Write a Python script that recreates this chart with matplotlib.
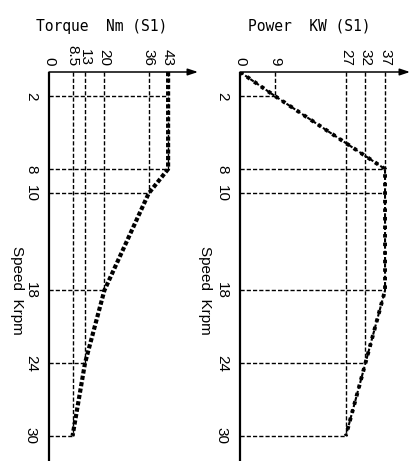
import matplotlib
matplotlib.use("Agg")
import matplotlib.pyplot as plt
import numpy as np

# ---- data ----
speed_ticks = [2, 8, 10, 18, 24, 30]

torque_speed = [0, 8, 10, 14, 18, 24, 30]
torque_vals = [43, 43, 36, 28, 20, 13, 8.5]
torque_ticks = [0, 8.5, 13, 20, 36, 43]
torque_ref_speed = [2, 8, 10, 18, 24, 30]
torque_ref_val = [43, 43, 36, 20, 13, 8.5]

power_speed = [0, 2, 8, 18, 24, 30]
power_vals = [0, 9, 37, 37, 32, 27]
power_ticks = [0, 9, 27, 32, 37]
power_ref_speed = [2, 8, 10, 18, 24, 30]
power_ref_val = [9, 37, 37, 37, 32, 27]
power_vert_speed = [2, 30, 24, 8]
power_vert_val = [9, 27, 32, 37]

torque_title = "Torque  Nm (S1)"
power_title = "Power  KW (S1)"
speed_label = "Speed  Krpm"

W, H = 414, 461
fig = plt.figure(figsize=(W / 100, H / 100), dpi=100)

tick_font = dict(family="Liberation Sans", size=11)
mono = "DejaVu Sans Mono"

def make_axes(left_px, right_px, xmax):
    top_px = 72
    ax = fig.add_axes([left_px / W, 0, (right_px - left_px) / W, (H - top_px) / H])
    ymax = (H - top_px) / 12.13
    ax.set_xlim(0, xmax)
    ax.set_ylim(ymax, 0)
    for s in ax.spines.values():
        s.set_visible(False)
    ax.patch.set_alpha(0)
    # axes lines
    ax.plot([0, 0], [0, ymax], color="black", lw=1.6, solid_capstyle="butt", clip_on=False)
    ax.annotate("", xy=(xmax, 0), xytext=(0, 0), xycoords="data",
                arrowprops=dict(arrowstyle="-|>,head_length=0.6,head_width=0.2",
                                color="black", lw=1.1, shrinkA=0, shrinkB=0),
                annotation_clip=False)
    return ax

grid_kw = dict(color="black", lw=1.0, dashes=(3, 1.5), zorder=2)

# ---- torque panel ----
ax1 = make_axes(49, 198, 149 / 2.77)
for s, v in zip(torque_ref_speed, torque_ref_val):
    ax1.plot([0, v], [s, s], **grid_kw)
for v in sorted(set(torque_ref_val)):
    smax = max(s for s, vv in zip(torque_ref_speed, torque_ref_val) if vv == v)
    ax1.plot([v, v], [0, smax], **grid_kw)
ax1.plot(torque_vals, torque_speed, color="black", lw=3.0, dashes=(1, 0.55),
         zorder=3, solid_capstyle="butt")

# ---- power panel ----
ax2 = make_axes(240, 410, 170 / 3.92)
for s, v in zip(power_ref_speed, power_ref_val):
    ax2.plot([0, v], [s, s], **grid_kw)
for s, v in zip(power_vert_speed, power_vert_val):
    ax2.plot([v, v], [0, s], **grid_kw)
ax2.plot(power_vals, power_speed, color="black", lw=1.5, dashes=(2, 1), zorder=3)
ax2.plot(power_vals, power_speed, color="black", lw=2.8, dashes=(0.9, 1.3), zorder=4)

for ax, xt in ((ax1, torque_ticks), (ax2, power_ticks)):
    ax.xaxis.set_ticks_position("top")
    ax.set_xticks(xt)
    ax.set_xticklabels([("%g" % t) for t in xt], rotation=270, fontdict=tick_font)
    ax.tick_params(axis="x", length=0, pad=4.5)
    ax.set_yticks(speed_ticks)
    ax.set_yticklabels([str(t) for t in speed_ticks], rotation=270, fontdict=tick_font, va="center")
    ax.tick_params(axis="y", length=0, pad=8)

fig.text(102 / W, 1 - 27 / H, torque_title, ha="center", va="center", family=mono, size=10.5)
fig.text(309 / W, 1 - 26 / H, power_title, ha="center", va="center", family=mono, size=10.5)
fig.text(17 / W, 1 - 290 / H, speed_label, rotation=270, ha="center", va="center",
         family="Liberation Sans", size=11)
fig.text(205 / W, 1 - 290 / H, speed_label, rotation=270, ha="center", va="center",
         family="Liberation Sans", size=11)

fig.savefig("out.png", dpi=100)
